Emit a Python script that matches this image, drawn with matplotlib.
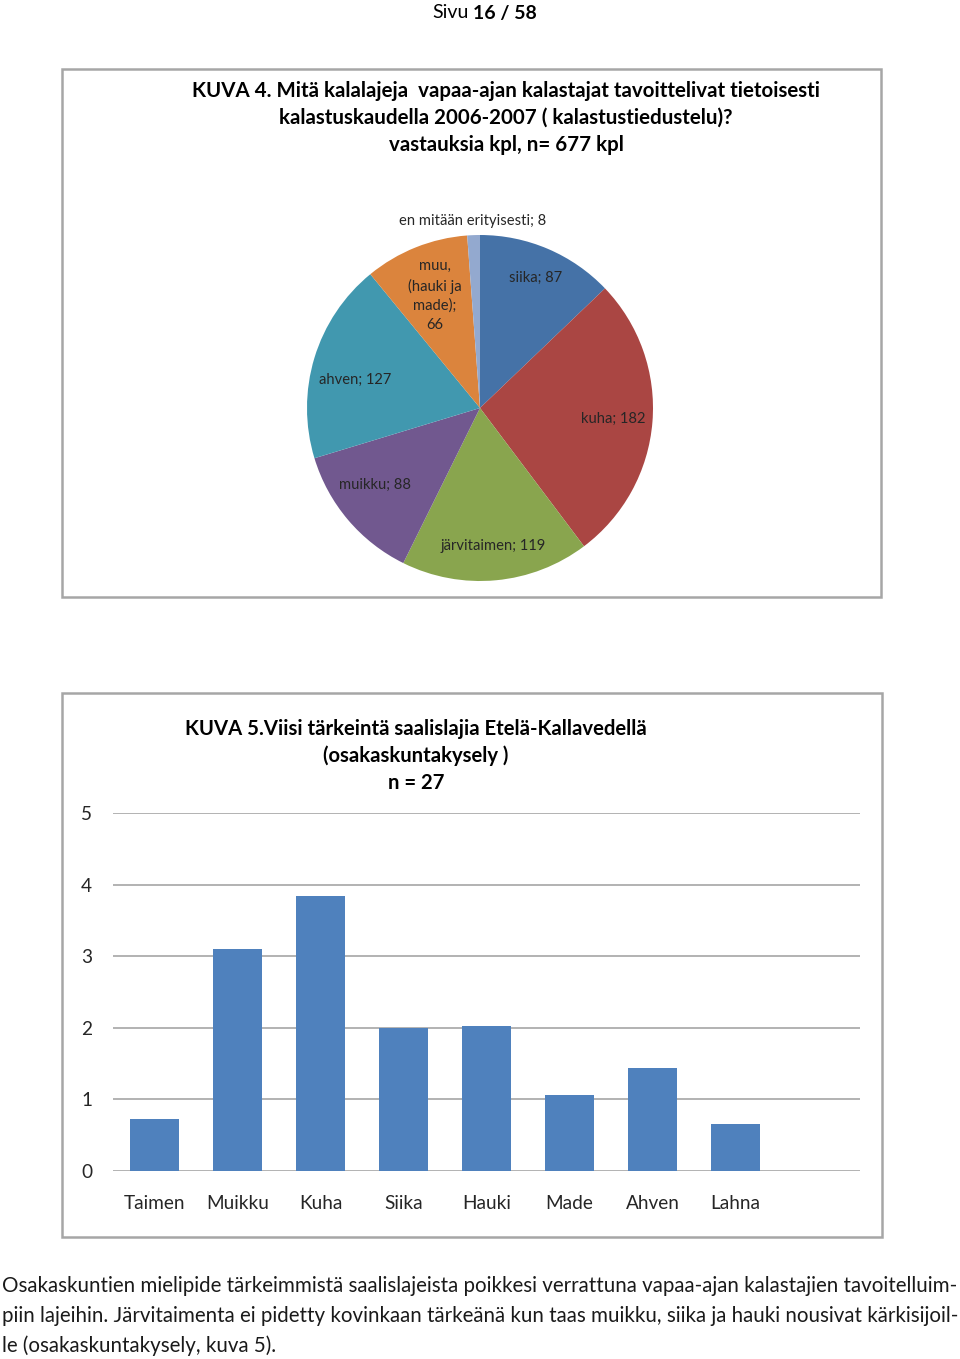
#!/usr/bin/env python3
# -*- coding: utf-8 -*-
"""Page 16: pie of target species (KUVA 4) and bar chart of catch species (KUVA 5)"""

import matplotlib
matplotlib.use("Agg")
import matplotlib.pyplot as plt
from matplotlib.patches import Rectangle
import numpy as np

plt.rcParams['font.family'] = ['Lato', 'DejaVu Sans']

# Pie data (KUVA 4)
pie_labels = ['siika; 87', 'kuha; 182', 'järvitaimen; 119', 'muikku; 88',
              'ahven; 127', 'muu,\n(hauki ja\nmade);\n66', 'en mitään erityisesti; 8']
pie_values = [87, 182, 119, 88, 127, 66, 8]
pie_colors = ['#4572A7', '#AA4643', '#89A54E', '#71588F', '#4198AF', '#DB843D', '#93A9CF']

# Bar data (KUVA 5)
bar_categories = ['Taimen', 'Muikku', 'Kuha', 'Siika', 'Hauki', 'Made', 'Ahven', 'Lahna']
bar_values = [0.73, 3.1, 3.84, 2.0, 2.03, 1.06, 1.44, 0.66]
y_ticks = [0, 1, 2, 3, 4, 5]

W, H = 960, 1359
fig = plt.figure(figsize=(W / 100, H / 100), dpi=100)


def box(x0, y0, x1, y1):
    """Figure-fraction rect from pixel corners (top-left origin)"""
    return [x0 / W, 1 - y1 / H, (x1 - x0) / W, (y1 - y0) / H]


def ftext(x, y, s, **kw):
    fig.text(x / W, 1 - y / H, s, **kw)


# Page header
ftext(469, 13, 'Sivu', ha='right', va='center', fontsize=14)
ftext(473, 13, '16 / 58', ha='left', va='center', fontsize=14, fontweight='bold')

# Frames around both charts
for rect in [(62, 69, 881, 597), (62, 693, 882, 1237)]:
    x0, y0, w, h = box(*rect)
    fig.patches.append(Rectangle((x0, y0), w, h, transform=fig.transFigure,
                                 fill=False, edgecolor='#A6A6A6', linewidth=1.8))

# ---- Pie chart ----
ftext(506, 91, 'KUVA 4. Mitä kalalajeja  vapaa-ajan kalastajat tavoittelivat tietoisesti',
      ha='center', va='center', fontsize=14.75, fontweight='bold')
ftext(506, 118, 'kalastuskaudella 2006-2007 ( kalastustiedustelu)?',
      ha='center', va='center', fontsize=14.75, fontweight='bold')
ftext(506, 145, 'vastauksia kpl, n= 677 kpl',
      ha='center', va='center', fontsize=14.75, fontweight='bold')

ax1 = fig.add_axes(box(307, 235, 653, 581))
wedges, _ = ax1.pie(pie_values, colors=pie_colors, startangle=90, counterclock=False,
                    radius=1.0, wedgeprops=dict(linewidth=0))
ax1.set_xlim(-1, 1)
ax1.set_ylim(-1, 1)
ax1.set_aspect('equal')
ax1.axis('off')

label_dist = [0.82, 0.77, 0.80, 0.75, 0.74, 0.70, 1.08]
label_turn = [0, 0, 0, -4, 4, 0, 0]
for w, lab, d, t in zip(wedges, pie_labels, label_dist, label_turn):
    ang = np.deg2rad((w.theta1 + w.theta2) / 2 + t)
    x, y = d * np.cos(ang), d * np.sin(ang)
    if d > 1:
        x = -0.04
    ax1.text(x, y, lab, ha='center', va='center', fontsize=10.6,
             color='#262626', linespacing=1.45, clip_on=False)

# ---- Bar chart ----
ftext(416, 729, 'KUVA 5.Viisi tärkeintä saalislajia Etelä-Kallavedellä',
      ha='center', va='center', fontsize=14.6, fontweight='bold')
ftext(416, 756, '(osakaskuntakysely )', ha='center', va='center', fontsize=14.6, fontweight='bold')
ftext(416, 783, 'n = 27', ha='center', va='center', fontsize=14.6, fontweight='bold')

ax2 = fig.add_axes(box(113, 813, 860, 1171))
x = np.arange(len(bar_categories))
ax2.bar(x, bar_values, width=0.58, color='#4F81BD', zorder=3)
ax2.set_xlim(-0.5, len(bar_categories) + 0.5)
ax2.set_ylim(0, 5)
ax2.set_yticks(y_ticks)
ax2.set_xticks(x)
ax2.set_xticklabels(bar_categories)
ax2.grid(axis='y', color='#A6A6A6', linewidth=1.2, zorder=0)
ax2.tick_params(axis='both', length=0, labelsize=13.7, colors='#262626')
ax2.tick_params(axis='y', pad=15)
ax2.tick_params(axis='x', pad=17)
for s in ax2.spines.values():
    s.set_visible(False)
ax2.set_facecolor('none')

# ---- Body text ----
lines = [
    'Osakaskuntien mielipide tärkeimmistä saalislajeista poikkesi verrattuna vapaa-ajan kalastajien tavoitelluim-',
    'piin lajeihin. Järvitaimenta ei pidetty kovinkaan tärkeänä kun taas muikku, siika ja hauki nousivat kärkisijoil-',
    'le (osakaskuntakysely, kuva 5).',
]
for i, line in enumerate(lines):
    ftext(2, 1286 + 30 * i, line, ha='left', va='center', fontsize=14.8, color='#1a1a1a')

plt.savefig('out.png', dpi=100)
